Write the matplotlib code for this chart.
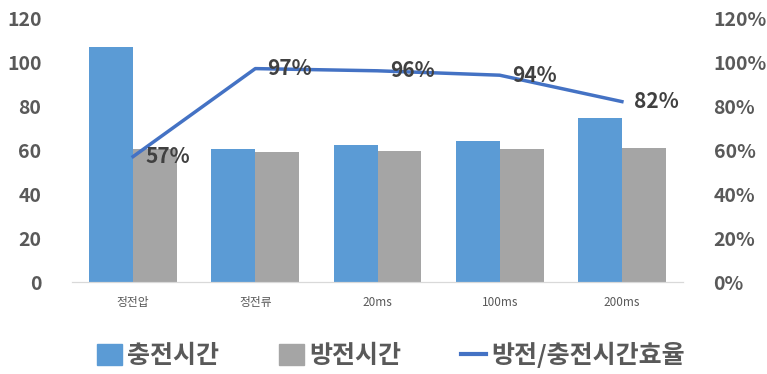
import numpy as np
import matplotlib.pyplot as plt
from matplotlib.ticker import FuncFormatter
from matplotlib.lines import Line2D
from matplotlib.patches import Patch

plt.rcParams['font.family'] = ['Noto Sans CJK KR', 'DejaVu Sans']

# 조건별 충전/방전 시간과 효율
categories = ['정전압', '정전류', '20ms', '100ms', '200ms']
charge_time = [107, 60.5, 62.3, 64.2, 74.4]
discharge_time = [60.3, 59.2, 59.7, 60.5, 61]
efficiency = [57, 97, 96, 94, 82]
eff_labels = ['57%', '97%', '96%', '94%', '82%']

blue = '#5b9bd5'
gray = '#a5a5a5'
line_blue = '#4472c4'
text_gray = '#595959'

fig = plt.figure(figsize=(7.67, 3.74), dpi=100)
ax = fig.add_axes([72 / 767, 1 - 282 / 374, 611 / 767, 264 / 374])
ax2 = ax.twinx()

x = np.arange(len(categories))
w = 0.36
ax.bar(x - w / 2, charge_time, w, color=blue, zorder=2)
ax.bar(x + w / 2, discharge_time, w, color=gray, zorder=2)

ax.set_xlim(-0.5, len(categories) - 0.5)
ax.set_ylim(0, 120)
ax.set_yticks(range(0, 121, 20))
ax.set_xticks(x)
ax.set_xticklabels(categories, fontsize=8.5, color=text_gray)
ax.tick_params(axis='x', length=0, pad=10)
ax.tick_params(axis='y', length=0, pad=22, labelsize=14, labelcolor=text_gray)
for lab in ax.get_yticklabels():
    lab.set_fontweight('bold')

ax2.plot(x, efficiency, color=line_blue, lw=2.5, zorder=3)
for xi, v, s in zip(x, efficiency, eff_labels):
    ax2.text(xi + 0.1, v, s, fontsize=15, fontweight='bold', color='#404040',
             va='center', ha='left', zorder=4)
ax2.set_ylim(0, 120)
ax2.set_yticks(range(0, 121, 20))
ax2.yaxis.set_major_formatter(FuncFormatter(lambda v, p: f'{int(v)}%'))
ax2.tick_params(axis='y', length=0, pad=22, labelsize=14, labelcolor=text_gray)
for lab in ax2.get_yticklabels():
    lab.set_fontweight('bold')

for a in (ax, ax2):
    for side in ('top', 'left', 'right'):
        a.spines[side].set_visible(False)
    a.spines['bottom'].set_color('#d9d9d9')

handles = [Patch(color=blue), Patch(color=gray),
           Line2D([0], [0], color=line_blue, lw=3)]
fig.legend(handles, ['충전시간', '방전시간', '방전/충전시간효율'],
           loc='center', bbox_to_anchor=(0.51, 1 - 355 / 374), ncol=3,
           frameon=False, prop={'size': 18, 'weight': 'bold'},
           labelcolor=text_gray, handlelength=1.0, handleheight=0.9,
           handletextpad=0.2, columnspacing=2.4)

fig.savefig('out.png', dpi=100)
